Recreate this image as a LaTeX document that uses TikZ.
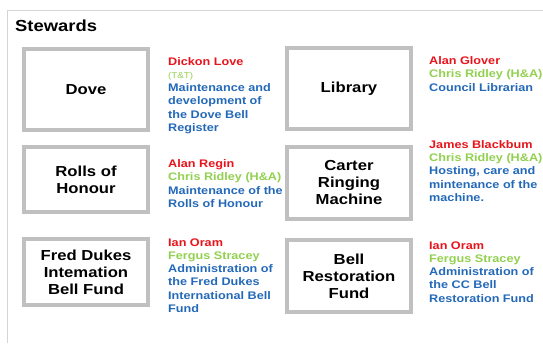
\documentclass[tikz,border=0pt]{standalone}
\usepackage{fontspec}
\setmainfont{Liberation Sans}[FakeStretch=1.15]
\usepackage{tikz}
\definecolor{stewred}{RGB}{232, 20, 28}
\definecolor{stewgreen}{RGB}{146, 208, 80}
\definecolor{stewblue}{RGB}{36, 105, 185}
\definecolor{boxgray}{RGB}{192, 192, 192}
\definecolor{framegray}{RGB}{212, 212, 212}

\begin{document}
\begin{tikzpicture}[x=1pt, y=-1pt,
    unit/.style={draw=boxgray, line width=4pt, fill=white, inner sep=0pt, align=center,
                 font=\fontsize{14.5}{17}\selectfont\bfseries},
    info/.style={anchor=north west, inner sep=0pt, align=left,
                 font=\fontsize{11}{13.2}\selectfont\bfseries}]
            \useasboundingbox                                             (0, 0) rectangle (543, 343);
            \draw[framegray, line width=1pt]                              (7, 343) -- (7, 10) -- (543, 10);
            \node[anchor=base west, inner sep=0pt, font=\fontsize{16}{18}\selectfont\bfseries]
                 (title) at (15, 31) {Stewards};
            % units, left column
            \node[unit, minimum width=124, minimum height=81] (dove)    at ( 86, 89.5) {Dove};
            \node[unit, minimum width=124, minimum height=65] (rolls)   at ( 86, 179.5) {Rolls of\\Honour};
            \node[unit, minimum width=124, minimum height=66] (fred)    at ( 86, 272) {Fred Dukes\\Intemation\\Bell Fund};
            % units, right column
            \node[unit, minimum width=124, minimum height=81] (library) at (349, 88.5) {Library};
            \node[unit, minimum width=124, minimum height=72] (carter)  at (349, 183) {Carter\\Ringing\\Machine};
            \node[unit, minimum width=124, minimum height=72] (bell)    at (349, 276) {Bell\\Restoration\\Fund};
            % stewards (top of first strut = baseline - 9.24)
            \node[info] (doveinfo)    at (168, 55.8)  {\strut\textcolor{stewred}{Dickon Love}\\
                 \textcolor{stewgreen}{\mdseries\fontsize{8.5}{9}\selectfont(T\&T)}\\
                 \textcolor{stewblue}{Maintenance and}\\ \textcolor{stewblue}{development of}\\
                 \textcolor{stewblue}{the Dove Bell}\\ \textcolor{stewblue}{Register}};
            \node[info] (rollsinfo)   at (168, 158.3) {\strut\textcolor{stewred}{Alan Regin}\\
                 \textcolor{stewgreen}{Chris Ridley (H\&A)}\\
                 \textcolor{stewblue}{Maintenance of the}\\ \textcolor{stewblue}{Rolls of Honour}};
            \node[info] (fredinfo)    at (168, 236.8) {\strut\textcolor{stewred}{Ian Oram}\\
                 \textcolor{stewgreen}{Fergus Stracey}\\
                 \textcolor{stewblue}{Administration of}\\ \textcolor{stewblue}{the Fred Dukes}\\
                 \textcolor{stewblue}{International Bell}\\ \textcolor{stewblue}{Fund}};
            \node[info] (libraryinfo) at (429, 55.3)  {\strut\textcolor{stewred}{Alan Glover}\\
                 \textcolor{stewgreen}{Chris Ridley (H\&A)}\\
                 \textcolor{stewblue}{Council Librarian}};
            \node[info] (carterinfo)  at (429, 139.1) {\strut\textcolor{stewred}{James Blackbum}\\
                 \textcolor{stewgreen}{Chris Ridley (H\&A)}\\
                 \textcolor{stewblue}{Hosting, care and}\\ \textcolor{stewblue}{mintenance of the}\\
                 \textcolor{stewblue}{machine.}};
            \node[info] (bellinfo)    at (429, 239.8) {\strut\textcolor{stewred}{Ian Oram}\\
                 \textcolor{stewgreen}{Fergus Stracey}\\
                 \textcolor{stewblue}{Administration of}\\ \textcolor{stewblue}{the CC Bell}\\
                 \textcolor{stewblue}{Restoration Fund}};
            \end{tikzpicture}
\end{document}
